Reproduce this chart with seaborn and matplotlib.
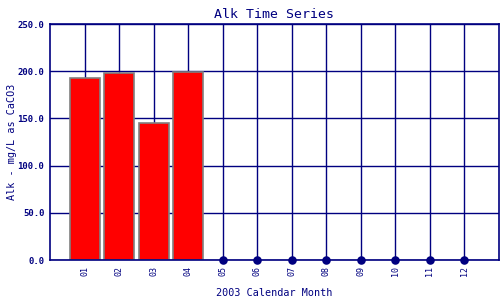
import numpy as np
import pandas as pd
import matplotlib
matplotlib.use("Agg")
import matplotlib.pyplot as plt
import seaborn as sns

months = ["01", "02", "03", "04", "05", "06", "07", "08", "09", "10", "11", "12"]
alk = [192.5, 197.8, 144.8, 199.2, np.nan, np.nan, np.nan, np.nan, np.nan, np.nan, np.nan, np.nan]
yticks = [0, 50, 100, 150, 200, 250]

navy = "#000080"
sns.set_style("white")
plt.rcParams['font.family'] = ['DejaVu Sans Mono', 'DejaVu Sans']

df = pd.DataFrame({"month": months, "alk": alk})
missing = df[df["alk"].isna()].copy()
missing["zero"] = 0.0

fig = plt.figure(figsize=(5, 3), dpi=100)
ax = fig.add_axes([0.1, 0.1333, 0.898, 0.7867])

sns.barplot(data=df, x="month", y="alk", order=months, color="#ff0000",
            width=0.87, edgecolor="#808080", linewidth=1.2, saturation=1,
            ax=ax, zorder=2)
sns.scatterplot(data=missing, x="month", y="zero", color=navy, s=38,
                edgecolor=navy, linewidth=0, ax=ax, zorder=3, clip_on=False)

ax.set_axisbelow(True)
ax.xaxis.grid(True, color=navy, linewidth=1.0)
ax.yaxis.grid(True, color=navy, linewidth=1.0)

ax.set_xlim(-1, 12)
ax.set_ylim(0, 250)
ax.set_yticks(yticks)
ax.set_yticklabels([f"{v:.1f}" for v in yticks], fontsize=6.5, color=navy, fontweight="bold")
ax.set_xticks(range(len(months)))
ax.set_xticklabels(months, rotation=90, fontsize=6, color=navy)
ax.tick_params(axis="both", length=0, pad=4)

for s in ax.spines.values():
    s.set_color(navy)
    s.set_linewidth(1.2)

ax.set_title("Alk Time Series", color=navy, fontsize=9.5, pad=4)
ax.set_xlabel("2003 Calendar Month", color=navy, fontsize=7.3, labelpad=9)
ax.set_ylabel("Alk - mg/L as CaCO3", color=navy, fontsize=7.3)
ax.yaxis.set_label_coords(-0.074, 0.5)

fig.savefig("out.png", dpi=100)
